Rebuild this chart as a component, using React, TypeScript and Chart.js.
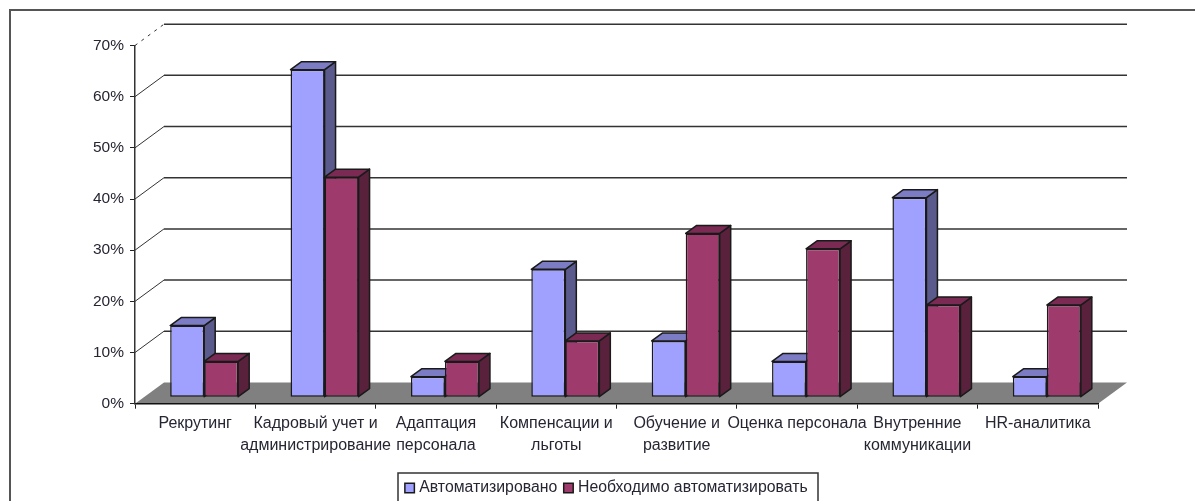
import React, { useEffect, useRef } from "react";
import { Chart, registerables } from "chart.js";

Chart.register(...registerables);

const categories: (string | string[])[] = [
  "Рекрутинг",
  ["Кадровый учет и", "администрирование"],
  ["Адаптация", "персонала"],
  ["Компенсации и", "льготы"],
  ["Обучение и", "развитие"],
  "Оценка персонала",
  ["Внутренние", "коммуникации"],
  "HR-аналитика",
];
const automated = [14, 64, 4, 25, 11, 7, 39, 4];
const needed = [7, 43, 7, 11, 32, 29, 18, 18];
const seriesNames = ["Автоматизировано", "Необходимо автоматизировать"];

const FAMILY = "'Liberation Sans', Arial, sans-serif";
const TEXT = "#262633";
const WALL_DX = 29;
const WALL_DY = -21.3;
const BAR_SHIFT_X = 9;
const BAR_SHIFT_Y = -6.5;
const BAR_DX = 11;
const BAR_DY = -8;
const palette = [
  { front: "#A0A0FF", side: "#5A5A8C", top: "#7C7CC4" },
  { front: "#9E3A6C", side: "#59213B", top: "#7A2A53" },
];

function drawFaces(ctx: any, meta: any, colors: any) {
  ctx.strokeStyle = "#1a1a1a";
  ctx.lineWidth = 1.5;
  ctx.lineJoin = "round";
  meta.data.forEach((el: any) => {
    const { x, y, base, width } = el.getProps(["x", "y", "base", "width"], true);
    const l = x - width / 2;
    const r = x + width / 2;
    ctx.fillStyle = colors.side;
    ctx.beginPath();
    ctx.moveTo(r, y);
    ctx.lineTo(r + BAR_DX, y + BAR_DY);
    ctx.lineTo(r + BAR_DX, base + BAR_DY);
    ctx.lineTo(r, base);
    ctx.closePath();
    ctx.fill();
    ctx.stroke();
    ctx.fillStyle = colors.top;
    ctx.beginPath();
    ctx.moveTo(l, y);
    ctx.lineTo(l + BAR_DX, y + BAR_DY);
    ctx.lineTo(r + BAR_DX, y + BAR_DY);
    ctx.lineTo(r, y);
    ctx.closePath();
    ctx.fill();
    ctx.stroke();
  });
}

const scene3d = {
  id: "scene3d",
  beforeDraw(chart: any) {
    const { ctx, width, height } = chart;
    ctx.save();
    ctx.fillStyle = "#fff";
    ctx.fillRect(0, 0, width, height);
    ctx.strokeStyle = "#555";
    ctx.lineWidth = 2;
    ctx.beginPath();
    ctx.moveTo(10, height);
    ctx.lineTo(10, 10);
    ctx.lineTo(width, 10);
    ctx.stroke();
    ctx.restore();
  },
  afterLayout(chart: any) {
    const l = chart.legend;
    const w = l.width;
    l.left = 58.75;
    l.right = l.left + w;
    l.top = 470.5;
    l.bottom = 510;
  },
  beforeDatasetsDraw(chart: any) {
    const { ctx, chartArea: a, scales } = chart;
    const yS = scales.y;
    ctx.save();
    ctx.fillStyle = "#808080";
    ctx.beginPath();
    ctx.moveTo(a.left, a.bottom);
    ctx.lineTo(a.right, a.bottom);
    ctx.lineTo(a.right + WALL_DX, a.bottom + WALL_DY);
    ctx.lineTo(a.left + WALL_DX, a.bottom + WALL_DY);
    ctx.closePath();
    ctx.fill();
    yS.ticks.forEach((t: any) => {
      if (t.value === 0) return;
      const y = yS.getPixelForValue(t.value);
      ctx.strokeStyle = "#333";
      ctx.lineWidth = 1;
      ctx.setLineDash(t.value === 70 ? [3, 5] : []);
      ctx.beginPath();
      ctx.moveTo(a.left, y);
      ctx.lineTo(a.left + WALL_DX, y + WALL_DY);
      ctx.stroke();
      ctx.setLineDash([]);
      ctx.lineWidth = 1.5;
      ctx.beginPath();
      ctx.moveTo(a.left + WALL_DX, y + WALL_DY);
      ctx.lineTo(a.right + WALL_DX, y + WALL_DY);
      ctx.stroke();
    });
    ctx.restore();
  },
  // Chart.js paints the last dataset first. The first series' side and top faces
  // have to lie under the second series, so both sets of faces go down at that point.
  beforeDatasetDraw(chart: any, args: any) {
    const { ctx } = chart;
    ctx.save();
    ctx.translate(BAR_SHIFT_X, BAR_SHIFT_Y);
    if (args.index === 1) {
      drawFaces(ctx, chart.getDatasetMeta(0), palette[0]);
      drawFaces(ctx, args.meta, palette[1]);
    }
  },
  afterDatasetDraw(chart: any) {
    chart.ctx.restore();
  },
  afterDraw(chart: any) {
    const { ctx, height } = chart;
    ctx.save();
    ctx.strokeStyle = "#333";
    ctx.lineWidth = 1.5;
    ctx.beginPath();
    ctx.moveTo(398, height + 5);
    ctx.lineTo(398, 473);
    ctx.lineTo(818, 473);
    ctx.lineTo(818, height + 5);
    ctx.stroke();
    ctx.restore();
  },
};

export default function App() {
  const ref = useRef<HTMLCanvasElement>(null);
  useEffect(() => {
    document.body.style.margin = "0";
    document.body.style.overflow = "hidden";
    const chart = new Chart(ref.current as HTMLCanvasElement, {
      type: "bar",
      data: {
        labels: categories as any,
        datasets: [automated, needed].map((data, i) => ({
          label: seriesNames[i],
          data,
          backgroundColor: palette[i].front,
          borderColor: "#1a1a1a",
          borderWidth: 1.5,
          borderSkipped: false,
          clip: false as any,
          categoryPercentage: 0.565,
          barPercentage: 1,
        })),
      },
      options: {
        responsive: false,
        animation: false,
        layout: { padding: { left: 0, top: 45.5, right: 97, bottom: 0 } },
        plugins: {
          title: { display: false },
          tooltip: { enabled: false },
          legend: {
            display: true,
            position: "bottom",
            labels: {
              font: { family: FAMILY, size: 15.8 },
              color: TEXT,
              usePointStyle: true,
              pointStyle: "rect",
              boxWidth: 3.5,
              boxHeight: 9.5,
              padding: 9.5,
            },
          },
        },
        scales: {
          x: {
            afterFit: (s: any) => { s.height = 62; },
            grid: { drawOnChartArea: false, tickLength: 5, color: "#222", z: 1 },
            border: { color: "#111", width: 1.5, z: 1 },
            ticks: {
              font: { family: FAMILY, size: 16, lineHeight: 1.35 },
              color: TEXT,
              autoSkip: false,
              maxRotation: 0,
              minRotation: 0,
              padding: 4,
            },
          },
          y: {
            min: 0,
            max: 70,
            afterFit: (s: any) => { s.width = 135; },
            grid: { drawOnChartArea: false, tickLength: 5, color: "#222", z: 1 },
            border: { color: "#333", width: 1.5, z: 1 },
            ticks: {
              stepSize: 10,
              font: { family: FAMILY, size: 15.5 },
              color: TEXT,
              padding: 6,
              callback: (v: any) => `${v}%`,
            },
          },
        },
      } as any,
      plugins: [scene3d],
    });
    return () => chart.destroy();
  }, []);
  return <canvas ref={ref} width={1195} height={501} style={{ display: "block" }} />;
}
